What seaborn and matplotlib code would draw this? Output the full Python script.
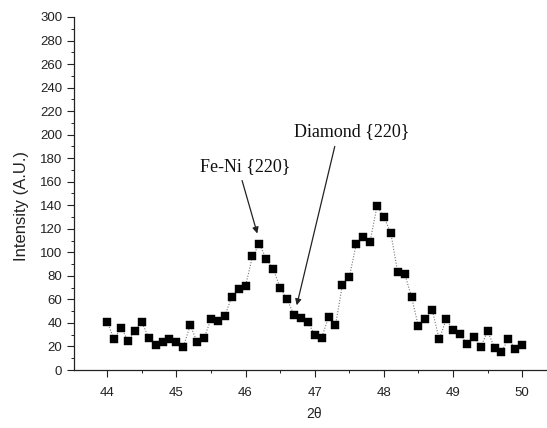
import numpy as np
import pandas as pd
import matplotlib
matplotlib.use("Agg")
import matplotlib.pyplot as plt
from matplotlib.ticker import MultipleLocator
import seaborn as sns

# XRD scan, 2-theta from 44.0 to 50.0 in 0.1 degree steps
two_theta = [44.0, 44.1, 44.2, 44.3, 44.4, 44.5, 44.6, 44.7, 44.8, 44.9,
             45.0, 45.1, 45.2, 45.3, 45.4, 45.5, 45.6, 45.7, 45.8, 45.9,
             46.0, 46.1, 46.2, 46.3, 46.4, 46.5, 46.6, 46.7, 46.8, 46.9,
             47.0, 47.1, 47.2, 47.3, 47.4, 47.5, 47.6, 47.7, 47.8, 47.9,
             48.0, 48.1, 48.2, 48.3, 48.4, 48.5, 48.6, 48.7, 48.8, 48.9,
             49.0, 49.1, 49.2, 49.3, 49.4, 49.5, 49.6, 49.7, 49.8, 49.9,
             50.0]
intensity = [41, 26, 36, 25, 33, 41, 27, 21, 24, 26,
             24, 19.5, 38, 24, 27, 43, 42, 46, 62, 69,
             71.5, 96.5, 107, 94.5, 86, 70, 60, 47, 44.3, 40.7,
             30, 27.4, 44.9, 38, 72, 78.8, 107, 113, 109, 139,
             130, 116.5, 83, 82, 62, 37, 43, 51, 26, 43,
             34, 31, 22, 28, 19.5, 33, 19, 15.5, 26.5, 18,
             21]

x_ticks = [44, 45, 46, 47, 48, 49, 50]
y_ticks = list(range(0, 301, 20))

# peak labels: text, text position, arrow tail and arrow tip
peak_labels = ["Fe-Ni {220}", "Diamond {220}"]
peak_text_xy = [(45.99, 173), (47.53, 203)]
peak_start_xy = [(45.95, 161), (47.29, 190)]
peak_tip_xy = [(46.17, 116), (46.74, 55)]

df = pd.DataFrame({"two_theta": two_theta, "intensity": intensity})

sns.set_style("ticks")
plt.rcParams["font.family"] = ["Liberation Sans", "DejaVu Sans"]

fig = plt.figure(figsize=(5.47, 4.28), dpi=100)
ax = fig.add_axes([0.1353, 0.1355, 0.8826, 0.8248])

sns.lineplot(data=df, x="two_theta", y="intensity", ax=ax,
             color="#777777", linestyle=(0, (1, 1.5)), linewidth=0.8)
sns.scatterplot(data=df, x="two_theta", y="intensity", ax=ax,
                marker="s", s=36, color="black", edgecolor="black",
                linewidth=0.3, zorder=3)

ax.set_xlim(43.52, 50.5)
ax.set_ylim(0, 300)
ax.set_xticks(x_ticks)
ax.set_yticks(y_ticks)
ax.xaxis.set_minor_locator(MultipleLocator(0.5))
ax.yaxis.set_minor_locator(MultipleLocator(10))

for side in ("top", "right"):
    ax.spines[side].set_visible(False)
for side in ("left", "bottom"):
    ax.spines[side].set_linewidth(0.9)
    ax.spines[side].set_color("#222222")

ax.tick_params(which="major", direction="out", length=5, width=0.8,
               labelsize=9.5, colors="#222222")
ax.tick_params(which="minor", direction="out", length=2.5, width=0.7,
               colors="#222222")
ax.tick_params(axis="x", which="major", pad=7)
ax.tick_params(axis="y", which="major", pad=3.5)

ax.set_xlabel("2θ", fontsize=10, color="#222222")
ax.set_ylabel("Intensity (A.U.)", fontsize=12, color="#222222")
ax.xaxis.set_label_coords(0.497, -0.105)
ax.yaxis.set_label_coords(-0.093, 0.465)

for label, txy, sxy, pxy in zip(peak_labels, peak_text_xy, peak_start_xy, peak_tip_xy):
    ax.text(txy[0], txy[1], label, ha="center", va="center",
            fontsize=13, family=["Liberation Serif", "DejaVu Serif"],
            color="#111111")
    ax.annotate("", xy=pxy, xytext=sxy,
                arrowprops=dict(arrowstyle="-|>", color="#222222", lw=0.9,
                                mutation_scale=9, shrinkA=0, shrinkB=0))

fig.savefig("out.png", dpi=100)
